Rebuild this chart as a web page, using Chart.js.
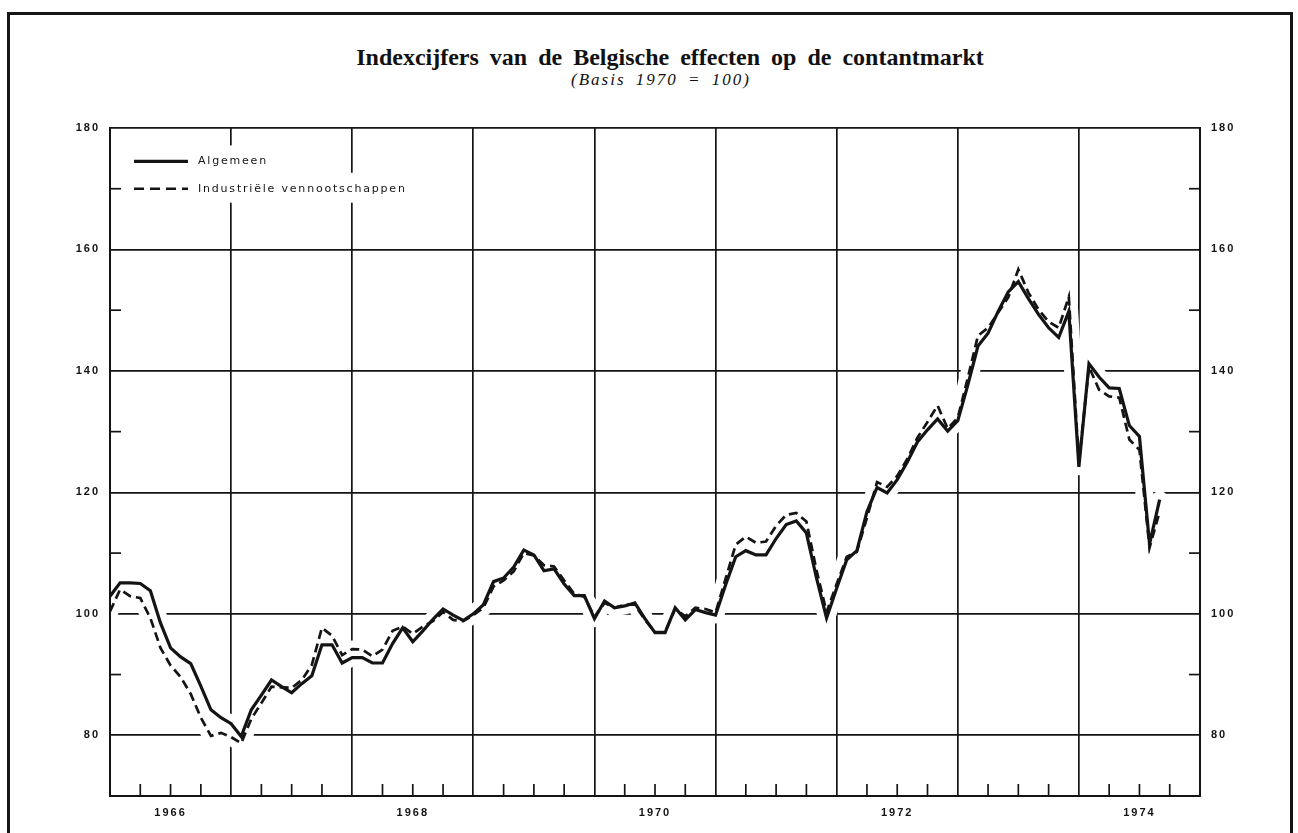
<!DOCTYPE html>
<html lang="nl">
<head>
<meta charset="UTF-8">
<title>Indexcijfers van de Belgische effecten op de contantmarkt</title>
<script src="https://cdn.jsdelivr.net/npm/chart.js@4.4.1/dist/chart.umd.min.js"></script>
<style>
  html, body { margin: 0; padding: 0; background: #fff; overflow: hidden; }
  #blad { position: relative; width: 1298px; height: 833px; }
  .kader {
    position: absolute; left: 7px; top: 12px; width: 1280px; height: 900px;
    border: 3px solid #161616;
  }
  .titel {
    position: absolute; left: 21px; width: 1298px; top: 44px; text-align: center;
    font: bold 24px "Liberation Serif", serif; word-spacing: 5px; color: #111;
  }
  .ondertitel {
    position: absolute; left: 12px; width: 1298px; top: 70px; text-align: center;
    font: italic 17px "Liberation Serif", serif; letter-spacing: 2px; word-spacing: 4px; color: #111;
  }
  canvas { position: absolute; left: 0; top: 0; }
</style>
</head>
<body>
<div id="blad">
  <div class="kader"></div>
  <div class="titel">Indexcijfers van de Belgische effecten op de contantmarkt</div>
  <div class="ondertitel">(Basis 1970 = 100)</div>
  <canvas id="grafiek" width="1298" height="833"></canvas>
</div>

<script>
  // maandcijfers vanaf januari 1966
  var eersteJaar = 1966;
  var laatsteJaar = 1975;

  var algemeen = [
    102.9, 105.1, 105.1, 105.0, 103.8, 98.5, 94.4, 92.9, 91.8, 88.1, 84.2, 82.9,
    81.9, 79.8, 84.2, 86.6, 89.1, 88.0, 87.0, 88.5, 89.8, 94.9, 94.9, 91.9,
    92.8, 92.8, 91.9, 91.9, 95.1, 97.7, 95.4, 97.2, 99.1, 100.8, 99.8, 98.9,
    100.0, 101.5, 105.3, 105.9, 107.7, 110.5, 109.7, 107.1, 107.4, 104.9, 103.0, 103.0,
    99.2, 102.1, 101.0, 101.3, 101.8, 99.2, 96.9, 96.9, 101.0, 99.0, 100.7, 100.2,
    99.8, 104.8, 109.4, 110.4, 109.7, 109.7, 112.4, 114.7, 115.3, 113.3, 105.9, 99.3,
    104.2, 108.9, 110.4, 116.8, 120.8, 119.9, 122.1, 125.0, 128.3, 130.3, 132.1, 130.1,
    131.8, 137.7, 144.1, 146.2, 149.8, 153.0, 154.7, 151.9, 149.3, 147.1, 145.5, 149.8,
    124.2, 141.2, 139.0, 137.2, 137.1, 131.0, 129.2, 111.5, 118.8
  ];

  var industriele = [
    100.4, 104.0, 102.9, 102.6, 99.3, 94.4, 91.5, 89.6, 86.8, 82.9, 79.9, 80.4,
    79.7, 78.7, 82.7, 85.3, 88.0, 87.9, 87.8, 89.1, 91.6, 97.7, 96.4, 93.2,
    94.2, 94.1, 93.0, 94.1, 97.2, 97.9, 96.7, 97.9, 98.8, 100.3, 99.0, 98.8,
    99.8, 101.0, 104.5, 105.5, 107.0, 110.0, 109.6, 108.0, 107.8, 105.5, 103.3, 102.8,
    99.5, 101.8, 101.0, 101.5, 101.5, 99.0, 97.0, 97.0, 100.8, 99.6, 101.0, 100.8,
    100.2, 105.8, 111.4, 112.7, 111.7, 111.9, 114.5, 116.3, 116.6, 115.2, 107.2, 100.3,
    104.9, 109.4, 110.2, 115.8, 121.7, 120.9, 122.7, 125.5, 129.0, 131.6, 134.3, 130.5,
    132.3, 138.9, 145.8, 147.1, 149.6, 152.1, 156.7, 152.9, 150.1, 148.1, 147.1, 152.2,
    124.9, 140.7, 136.9, 135.8, 135.6, 128.7, 127.0, 110.9, 116.8
  ];

  var jaarLabels = [1966, 1968, 1970, 1972, 1974];
  var yLabels = [80, 100, 120, 140, 160, 180];
  var yMin = 70, yMax = 180;

  var inkt = '#141414';

  function naarPunten(reeks) {
    return reeks.map(function (v, i) { return { x: eersteJaar + i / 12, y: v }; });
  }

  // kwartaalstreepjes en jaargrenzen op de tijdas
  var kwartalen = [];
  for (var k = 0; k <= (laatsteJaar - eersteJaar) * 4; k++) kwartalen.push(eersteJaar + k / 4);
  var tienTallen = [];
  for (var t = yMin; t <= yMax; t += 10) tienTallen.push(t);

  function lijn(ctx, x1, y1, x2, y2) {
    ctx.beginPath(); ctx.moveTo(x1, y1); ctx.lineTo(x2, y2); ctx.stroke();
  }

  var legendeFont = '11px "DejaVu Sans", sans-serif';
  var legendeSpatie = '1.8px';

  function legendeRegels(chart) {
    var y = chart.scales.y;
    return [
      { tekst: chart.data.datasets[0].label, py: y.getPixelForValue(174.5), dash: [], w: 3.2 },
      { tekst: chart.data.datasets[1].label, py: y.getPixelForValue(170), dash: [10, 6], w: 2.7 }
    ];
  }

  // witte rand onder de lijnen en de legende, zodat het raster daar wegvalt
  var witteRand = {
    id: 'witteRand',
    beforeDatasetsDraw: function (chart) {
      var ctx = chart.ctx, a = chart.chartArea;
      ctx.save();
      ctx.beginPath(); ctx.rect(a.left + 1, a.top + 1, a.right - a.left - 2, a.bottom - a.top - 2); ctx.clip();
      ctx.strokeStyle = '#fff'; ctx.lineWidth = 17; ctx.lineJoin = 'round'; ctx.lineCap = 'round';
      chart.data.datasets.forEach(function (ds, i) {
        var pts = chart.getDatasetMeta(i).data;
        ctx.beginPath();
        pts.forEach(function (p, j) { if (j) ctx.lineTo(p.x, p.y); else ctx.moveTo(p.x, p.y); });
        ctx.stroke();
      });
      ctx.font = legendeFont; ctx.letterSpacing = legendeSpatie;
      ctx.fillStyle = '#fff';
      legendeRegels(chart).forEach(function (r) {
        var eind = a.left + 88 + ctx.measureText(r.tekst).width + 8;
        ctx.fillRect(a.left, r.py - 16, eind - a.left, 30);
      });
      ctx.restore();
    }
  };

  var streepjes = {
    id: 'streepjes',
    beforeDraw: function (chart) {
      chart.ctx.letterSpacing = '2px';
    },
    afterDraw: function (chart) {
      var ctx = chart.ctx, a = chart.chartArea, x = chart.scales.x, y = chart.scales.y;
      ctx.save();
      ctx.strokeStyle = inkt; ctx.lineWidth = 1.7;
      tienTallen.forEach(function (v) {
        if (v % 20 === 0 || v === yMin) return;
        var py = y.getPixelForValue(v);
        lijn(ctx, a.left, py, a.left + 11, py);
        lijn(ctx, a.right - 11, py, a.right, py);
      });
      kwartalen.forEach(function (v) {
        if (Number.isInteger(v)) return;
        var px = x.getPixelForValue(v);
        lijn(ctx, px, a.bottom, px, a.bottom - 12);
      });

      // legende in de linkerbovenhoek
      ctx.font = legendeFont;
      ctx.letterSpacing = legendeSpatie;
      ctx.fillStyle = inkt; ctx.textBaseline = 'middle'; ctx.textAlign = 'left';
      legendeRegels(chart).forEach(function (r) {
        ctx.lineWidth = r.w; ctx.setLineDash(r.dash);
        lijn(ctx, a.left + 24, r.py, a.left + 78, r.py);
        ctx.setLineDash([]);
        ctx.fillText(r.tekst, a.left + 88, r.py);
      });
      ctx.restore();
    }
  };

  var tickFont = { family: '"Liberation Sans", sans-serif', size: 11, weight: 'bold' };

  function yAs(positie, breedte) {
    return {
      type: 'linear', position: positie, min: yMin, max: yMax,
      afterBuildTicks: function (s) { s.ticks = tienTallen.map(function (v) { return { value: v }; }); },
      afterFit: function (s) { s.width = breedte; },
      grid: {
        display: positie === 'left',
        drawTicks: false, lineWidth: 1.7,
        color: function (c) { return c.tick && c.tick.value % 20 === 0 ? inkt : 'rgba(0,0,0,0)'; }
      },
      border: { display: true, color: inkt, width: 2, z: 1 },
      ticks: {
        padding: positie === 'left' ? 10 : 11, color: inkt, font: tickFont,
        callback: function (v) { return yLabels.indexOf(v) >= 0 ? String(v) : ''; }
      }
    };
  }

  new Chart(document.getElementById('grafiek'), {
    type: 'line',
    data: {
      datasets: [
        {
          label: 'Algemeen', data: naarPunten(algemeen),
          borderColor: inkt, borderWidth: 3.2, pointRadius: 0, tension: 0, fill: false
        },
        {
          label: 'Industriële vennootschappen', data: naarPunten(industriele),
          borderColor: inkt, borderWidth: 2.7, borderDash: [9, 5], pointRadius: 0, tension: 0, fill: false
        }
      ]
    },
    options: {
      responsive: false,
      animation: false,
      layout: { padding: { top: 128, left: 0, right: 0, bottom: 0 } },
      plugins: { legend: { display: false }, tooltip: { enabled: false } },
      scales: {
        x: {
          type: 'linear', min: eersteJaar, max: laatsteJaar,
          afterBuildTicks: function (s) { s.ticks = kwartalen.map(function (v) { return { value: v }; }); },
          afterFit: function (s) { s.height = 37; },
          grid: {
            drawTicks: false, lineWidth: 1.7,
            color: function (c) { return c.tick && Number.isInteger(c.tick.value) ? inkt : 'rgba(0,0,0,0)'; }
          },
          border: { display: true, color: inkt, width: 2, z: 1 },
          ticks: {
            autoSkip: false, maxRotation: 0, padding: 10, color: inkt, font: tickFont,
            callback: function (v) {
              var j = v - 0.5;
              return jaarLabels.indexOf(j) >= 0 ? String(j) : '';
            }
          }
        },
        y: yAs('left', 110),
        y2: yAs('right', 98)
      }
    },
    plugins: [witteRand, streepjes]
  });
</script>
</body>
</html>
